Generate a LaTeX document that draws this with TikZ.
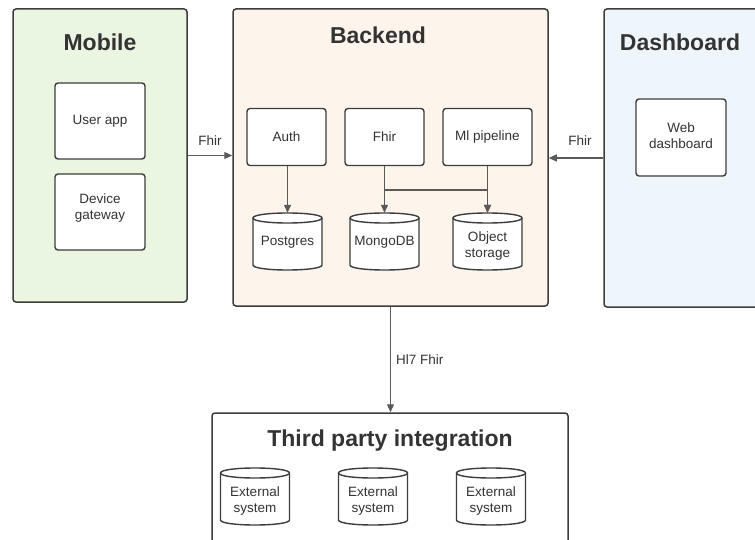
\documentclass[tikz,border=0pt]{standalone}
\usepackage{fontspec}
\setmainfont{Liberation Sans}
\usetikzlibrary{arrows.meta}

\definecolor{edgegray}{HTML}{3D3D3D}
\definecolor{flowgray}{HTML}{5A5A5A}
\definecolor{inkgray}{HTML}{333333}
\definecolor{mobilefill}{HTML}{EAF5E2}
\definecolor{backendfill}{HTML}{FDF4EC}
\definecolor{dashfill}{HTML}{EFF6FB}

% Database drum: #1 name, #2 centre x, #3 top y, #4 label, #5 label drop below the top
\newcommand\drum[5]{%
  \pgfmathsetmacro\drL{#2-34.5}%
  \pgfmathsetmacro\drR{#2+34.5}%
  \pgfmathsetmacro\drT{#3+5}%
  \pgfmathsetmacro\drB{#3+52}%
  \pgfmathsetmacro\drTu{#3+5-6.67}%
  \pgfmathsetmacro\drTd{#3+5+6.67}%
  \pgfmathsetmacro\drBd{#3+52+6.67}%
  \pgfmathsetmacro\drH{2*#5}%
  \filldraw[drumline] (\drL,\drT) -- (\drL,\drB)
     .. controls (\drL,\drBd) and (\drR,\drBd) .. (\drR,\drB)
     -- (\drR,\drT)
     .. controls (\drR,\drTu) and (\drL,\drTu) .. (\drL,\drT) -- cycle;
  \draw[drumline] (\drL,\drT) .. controls (\drL,\drTd) and (\drR,\drTd) .. (\drR,\drT);
  \node[drumtext, minimum height=\drH pt] (#1) at (#2,#3+#5) {#4};
}

\tikzset{
  panel/.style={draw=edgegray, line width=1.5pt, rounded corners=3pt, inner sep=0pt},
  unit/.style={draw=edgegray, line width=1.4pt, rounded corners=3pt, fill=white,
    inner sep=0pt, align=center, text=inkgray, font=\fontsize{13.5}{16.5}\selectfont},
  title/.style={font=\fontsize{23}{26}\selectfont\bfseries, text=inkgray, inner sep=0pt},
  drumline/.style={draw=edgegray, line width=1.4pt, fill=white},
  drumtext/.style={minimum width=69pt, inner sep=0pt, align=center,
    text=inkgray, font=\fontsize{13.5}{16.5}\selectfont},
  flow/.style={draw=flowgray, line width=1.2pt, -{Triangle[length=8pt,width=7pt]}},
  tag/.style={text=inkgray, font=\fontsize{13.5}{16.5}\selectfont, inner sep=0pt},
}

\begin{document}
\begin{tikzpicture}[x=1pt,y=-1pt]
\useasboundingbox (0,0) rectangle (755,540);
\clip (0,0) rectangle (755,540);
\fill[white] (0,0) rectangle (755,540);

% Panels
\node[panel, fill=mobilefill, minimum width=174pt, minimum height=293pt] (mobile) at (100,155.5) {};
\node[panel, fill=backendfill, minimum width=315pt, minimum height=297pt] (backend) at (390.5,157.5) {};
\node[panel, fill=dashfill, minimum width=190pt, minimum height=298pt] (dash) at (699,158) {};
\node[panel, fill=white, minimum width=356pt, minimum height=150pt] (third) at (390,488) {};

% Titles
\node[title] (mobiletitle) at (100,42) {Mobile};
\node[title] (backendtitle) at (378,35) {Backend};
\node[title] (dashtitle) at (680,42) {Dashboard};
\node[title] (thirdtitle) at (390,440.5) {Third party integration};

% Mobile units
\node[unit, minimum width=90pt, minimum height=76pt] (userapp) at (100,121) {User app};
\node[unit, minimum width=90pt, minimum height=76pt] (gateway) at (100,212) {};
\node[align=center, text=inkgray, font=\fontsize{13.5}{16.5}\selectfont, inner sep=0pt]
  (gatewaytext) at (100,208) {Device\\gateway};

% Dashboard unit
\node[unit, minimum width=90pt, minimum height=77pt] (webdash) at (681,137.5) {};
\node[align=center, text=inkgray, font=\fontsize{13.5}{16.5}\selectfont, inner sep=0pt]
  (webdashtext) at (681,135.5) {Web\\dashboard};

% Backend services
\node[unit, minimum width=79pt, minimum height=57pt] (auth) at (286.5,137) {Auth};
\node[unit, minimum width=79pt, minimum height=57pt] (fhir) at (384.5,137) {Fhir};
\node[unit, minimum width=89pt, minimum height=57pt] (mlpipe) at (487.5,137) {Ml pipeline};

% Backend stores
\drum{postgres}{287.5}{213}{Postgres}{29}
\drum{mongo}{384.5}{213}{MongoDB}{29}
\drum{objstore}{487.5}{213}{Object\\storage}{33}

% External systems
\drum{extA}{255}{468}{External\\system}{33}
\drum{extB}{373}{468}{External\\system}{33}
\drum{extC}{491}{468}{External\\system}{33}

% Backend data flows
\draw[flow] (auth.south -| postgres.north) -- (postgres.north);
\draw[flow] (fhir.south) -- (mongo.north);
\coordinate (fork) at (384.5,190);
\draw[flow] (fork) -| (objstore.north);
\draw[flow] (mlpipe.south -| objstore.north) -- (objstore.north);

% Links between panels
\draw[flow] (mobile.east) -- (mobile.east -| backend.west)
  node[tag, midway, above=9pt] {Fhir};
\draw[flow] (dash.west) -- (dash.west -| backend.east)
  node[tag, midway, above=12pt, xshift=4pt] {Fhir};
\draw[flow] (backend.south) -- (backend.south |- third.north)
  node[tag, midway, right=5pt] {Hl7 Fhir};
\end{tikzpicture}
\end{document}
